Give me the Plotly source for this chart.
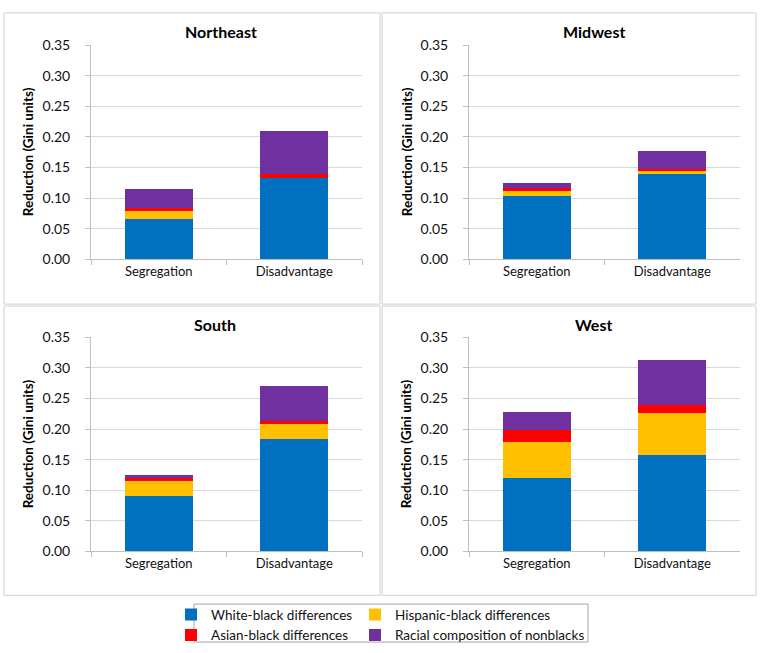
import plotly.graph_objects as go

# ---- data ----
regions = ["Northeast", "Midwest", "South", "West"]
categories = ["Segregation", "Disadvantage"]
series_names = ["White-black differences", "Hispanic-black differences",
                "Asian-black differences", "Racial composition of nonblacks"]
# values per region: [Segregation, Disadvantage]
white_black = [[0.066, 0.133], [0.103, 0.140], [0.090, 0.183], [0.120, 0.158]]
hispanic_black = [[0.013, 0.000], [0.008, 0.004], [0.025, 0.025], [0.059, 0.068]]
asian_black = [[0.004, 0.006], [0.005, 0.004], [0.005, 0.005], [0.020, 0.014]]
racial_comp = [[0.032, 0.071], [0.009, 0.029], [0.005, 0.058], [0.029, 0.072]]
y_tickvals = [0.00, 0.05, 0.10, 0.15, 0.20, 0.25, 0.30, 0.35]
y_title = "Reduction (Gini units)"

# ---- style ----
W, H = 762, 653
colors = ["#0070C0", "#FFC000", "#FF0000", "#7030A0"]
FONT = "Lato, 'Open Sans', sans-serif"
legend_ids = ["legend", "legend2", "legend", "legend2"]

# plot areas in pixels (left, right, top, bottom)
plot_px = [(91, 362, 37, 257), (469, 740, 37, 257),
           (91, 362, 337, 557), (469, 740, 337, 557)]
panel_px = [(4, 380, 4, 303), (382, 756, 4, 303),
            (4, 380, 305, 602), (382, 756, 305, 602)]
title_px = [(221, 23), (594, 23), (215, 324), (593, 324)]
ytitle_x = [28, 407, 28, 406]

def px_x(v):
    return v / W

def px_y(v):
    return 1 - v / H

fig = go.Figure()
all_series = [white_black, hispanic_black, asian_black, racial_comp]
for r in range(len(regions)):
    suffix = "" if r == 0 else str(r + 1)
    for s, vals in enumerate(all_series):
        fig.add_trace(go.Bar(
            x=categories, y=vals[r], name=series_names[s],
            marker=dict(color=colors[s], line=dict(width=0)),
            xaxis="x" + suffix, yaxis="y" + suffix,
            showlegend=(r == 0), legend=legend_ids[s],
            hoverinfo="x+y+name",
        ))

layout = dict(
    width=W, height=H,
    margin=dict(l=0, r=0, t=0, b=0),
    paper_bgcolor="white", plot_bgcolor="white",
    barmode="stack", bargap=0.5,
    font=dict(family=FONT, size=13, color="#111111"),
    shapes=[], annotations=[],
)

for r in range(len(regions)):
    suffix = "" if r == 0 else str(r + 1)
    l, rt, t, b = plot_px[r]
    layout["xaxis" + suffix] = dict(
        domain=[px_x(l), px_x(rt)], anchor="y" + suffix,
        type="category", showgrid=False, showline=True, linecolor="#bfbfbf",
        linewidth=1, ticks="outside", tickson="boundaries", ticklen=5,
        tickcolor="#bfbfbf", tickfont=dict(size=13, color="#111111"),
        fixedrange=True,
    )
    layout["yaxis" + suffix] = dict(
        domain=[px_y(b), px_y(t)], anchor="x" + suffix,
        range=[0, 0.35], tickvals=y_tickvals, tickformat=".2f",
        showgrid=True, gridcolor="#d9d9d9", gridwidth=1,
        showline=True, linecolor="#bfbfbf", linewidth=1,
        ticks="outside", ticklen=5, tickcolor="#bfbfbf",
        ticklabelstandoff=12,
        tickfont=dict(size=14, color="#111111"), zeroline=False,
        fixedrange=True,
    )
    pl, pr, pt, pb = panel_px[r]
    layout["shapes"].append(dict(
        type="rect", xref="paper", yref="paper",
        x0=px_x(pl), x1=px_x(pr), y0=px_y(pb), y1=px_y(pt),
        line=dict(color="#d0d0d0", width=1), fillcolor="rgba(0,0,0,0)",
        layer="below",
    ))
    tx, ty = title_px[r]
    layout["annotations"].append(dict(
        text="<b>%s</b>" % regions[r], xref="paper", yref="paper",
        x=px_x(tx), y=px_y(ty), xanchor="center", yanchor="middle",
        showarrow=False, font=dict(size=16, color="#000000"),
    ))
    layout["annotations"].append(dict(
        text="<b>%s</b>" % y_title, xref="paper", yref="paper",
        x=px_x(ytitle_x[r]), y=px_y((t + b) / 2), xanchor="center",
        yanchor="middle", textangle=-90, showarrow=False,
        font=dict(size=13.5, color="#000000"),
    ))

# legend frame
layout["shapes"].append(dict(
    type="rect", xref="paper", yref="paper",
    x0=px_x(194), x1=px_x(588), y0=px_y(650), y1=px_y(611),
    line=dict(color="#a6a6a6", width=1), fillcolor="rgba(0,0,0,0)",
))

leg_common = dict(
    orientation="v", yanchor="top", xanchor="left", traceorder="normal",
    bgcolor="rgba(0,0,0,0)", borderwidth=0, itemwidth=30,
    font=dict(size=13.5, color="#111111"), tracegroupgap=0,
    itemclick=False, itemdoubleclick=False,
)
layout["legend"] = dict(leg_common, x=px_x(171), y=px_y(606))
layout["legend2"] = dict(leg_common, x=px_x(355), y=px_y(606))

fig.update_layout(**layout)

page_fix = (
    "var h=document.documentElement.style;h.margin='0';h.padding='0';"
    "h.overflow='hidden';h.height='653px';"
    "var b=document.body.style;b.margin='0';b.padding='0';b.overflow='hidden';"
    "b.height='653px';b.fontSize='0';b.lineHeight='0';"
)
fig.write_html("out.html", config={"displayModeBar": False},
               post_script=page_fix)
